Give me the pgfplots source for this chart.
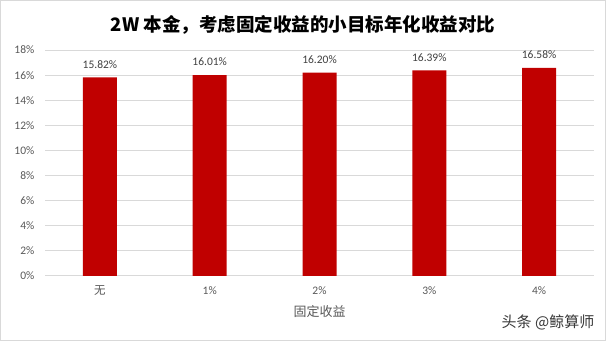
\documentclass[border=0pt]{standalone}
\usepackage{pgfplots}
\pgfplotsset{compat=1.18}
\usepackage{fontspec}
\setmainfont{Carlito}
\newfontfamily\cjk{Noto Sans CJK SC}
\definecolor{barred}{HTML}{C00000}
\definecolor{txt}{HTML}{595959}
\definecolor{gridc}{HTML}{D9D9D9}
\definecolor{lbl}{HTML}{404040}
\begin{document}
\begin{tikzpicture}[x=1pt,y=1pt]
\useasboundingbox (0,0) rectangle (606,341);
\fill[white] (0,0) rectangle (606,341);
\draw[color=gridc, line width=1.2pt] (0.6,0.6) rectangle (605.4,340.4);
\node[font={\cjk\fontsize{18.5}{20}\selectfont\bfseries}, text=black] at (303,316.5) {2W 本金，考虑固定收益的小目标年化收益对比};
\begin{axis}[
  at={(41,52)}, anchor=south west,
  scale only axis, width=549pt, height=225.7pt,
  ymin=0, ymax=18, xmin=-0.5, xmax=4.5,
  enlargelimits=false,
  ybar, bar width=34pt,
  axis line style={draw=none},
  major tick length=0pt,
  /pgf/number format/assume math mode=true,
  ymajorgrids, grid style={color=gridc, line width=0.8pt},
  ytick={0,2,...,18},
  yticklabel={\pgfmathprintnumber{\tick}\%},
  yticklabel style={font=\fontsize{11.5}{13}\selectfont, text=txt, anchor=east, inner sep=0pt, xshift=-10.5pt},
  xtick={0,1,2,3,4},
  xticklabels={{\cjk 无},1\%,2\%,3\%,4\%},
  xticklabel style={font=\fontsize{11.5}{13}\selectfont, text=txt, anchor=center, inner sep=0pt, yshift=-15pt},
  xlabel={\cjk 固定收益},
  xlabel style={font=\fontsize{13}{15}\selectfont, text=txt, at={(axis description cs:0.5,0)}, anchor=center, inner sep=0pt, yshift=-36pt},
  nodes near coords={\pgfmathprintnumber[fixed,fixed zerofill,precision=2]{\pgfplotspointmeta}\%},
  every node near coord/.append style={font=\fontsize{11.5}{13}\selectfont, text=lbl, anchor=center, inner sep=0pt, yshift=13pt},
  clip=false,
]
\addplot[fill=barred, draw=none] coordinates {(0,15.82) (1,16.01) (2,16.20) (3,16.39) (4,16.58)};
\end{axis}
\node[font={\cjk\fontsize{15}{17}\selectfont}, text=black!78] at (548,18.3) {头条 @鲸算师};
\end{tikzpicture}
\end{document}
